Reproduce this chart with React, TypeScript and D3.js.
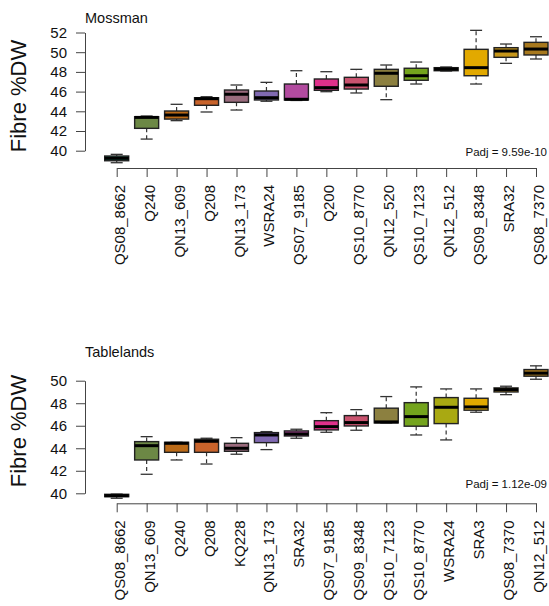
import * as d3 from "d3"
import { useEffect, useRef } from "react"

// Box colours, same order of positions in both panels
const boxColors = [
  "#1f7a5c", "#6c8845", "#bb6a17", "#c8632b", "#9a6b7d", "#8069b2", "#b24b9f", "#e0308b",
  "#c9536f", "#8c8040", "#74a41d", "#a9a912", "#e2a900", "#c6961a", "#a8791e",
]

// Mossman
const mossmanCats = [
  "QS08_8662", "Q240", "QN13_609", "Q208", "QN13_173", "WSRA24", "QS07_9185", "Q200",
  "QS10_8770", "QN12_520", "QS10_7123", "QN12_512", "QS09_8348", "SRA32", "QS08_7370",
]
const mossmanLow = [38.78, 41.18, 43.05, 43.93, 44.13, 45.02, 45.1, 45.99, 45.86, 45.18, 46.77, 48.09, 46.77, 48.87, 49.31]
const mossmanQ1 = [38.98, 42.27, 43.21, 44.61, 44.91, 45.15, 45.15, 46.13, 46.26, 46.54, 47.15, 48.12, 47.61, 49.48, 49.72]
const mossmanMed = [39.23, 43.38, 43.62, 45.28, 45.73, 45.38, 45.22, 46.4, 46.67, 47.86, 47.61, 48.29, 48.43, 50.12, 50.32]
const mossmanQ3 = [39.46, 43.45, 44.03, 45.38, 46.16, 46.06, 46.77, 47.28, 47.45, 48.26, 48.37, 48.43, 50.29, 50.46, 51.0]
const mossmanHigh = [39.63, 43.52, 44.71, 45.48, 46.67, 46.94, 48.12, 48.02, 48.26, 48.7, 49.0, 48.5, 52.22, 50.83, 51.57]
const mossmanTicks = [40, 42, 44, 46, 48, 50, 52]

// Tablelands
const tableCats = [
  "QS08_8662", "QN13_609", "Q240", "Q208", "KQ228", "QN13_173", "SRA32", "QS07_9185",
  "QS09_8348", "QS10_7123", "QS10_8770", "WSRA24", "SRA3", "QS08_7370", "QN12_512",
]
const tableLow = [39.56, 41.69, 42.96, 42.6, 43.47, 43.88, 44.89, 45.42, 45.6, 46.25, 45.18, 44.74, 47.2, 48.76, 50.13]
const tableQ1 = [39.7, 42.96, 43.64, 43.64, 43.73, 44.5, 45.09, 45.63, 45.98, 46.25, 45.96, 46.19, 47.38, 49.0, 50.4]
const tableMed = [39.79, 44.23, 44.44, 44.62, 44.0, 45.18, 45.27, 45.92, 46.28, 46.34, 46.81, 47.64, 47.67, 49.21, 50.67]
const tableQ3 = [39.91, 44.59, 44.53, 44.8, 44.44, 45.39, 45.54, 46.45, 46.9, 47.56, 48.05, 48.5, 48.44, 49.36, 50.99]
const tableHigh = [39.93, 45.03, 44.53, 44.89, 44.94, 45.48, 45.69, 47.16, 47.43, 48.59, 49.45, 49.27, 49.27, 49.51, 51.32]
const tableTicks = [40, 42, 44, 46, 48, 50]

const FONT = "'Liberation Sans', Arial, sans-serif"

interface PanelCfg {
  title: string
  padj: string
  cats: string[]
  low: number[]
  q1: number[]
  med: number[]
  q3: number[]
  high: number[]
  ticks: number[]
  yPix: [number, number] // pixel for first and last tick
  axisY: number
  titleY: number
  padjY: number
  ylabY: number
}

const drawPanel = (root: d3.Selection<SVGGElement, unknown, null, undefined>, p: PanelCfg) => {
  const g = root.append("g")

  const x = d3.scalePoint<string>().domain(p.cats).range([116.7, 536])
  const y = d3
    .scaleLinear()
    .domain([p.ticks[0], p.ticks[p.ticks.length - 1]])
    .range(p.yPix)

  const boxW = 24
  const capW = 12

  const rows = p.cats.map((c, i) => ({
    cat: c,
    low: p.low[i],
    q1: p.q1[i],
    med: p.med[i],
    q3: p.q3[i],
    high: p.high[i],
    color: boxColors[i],
  }))

  const box = g
    .selectAll(".box")
    .data(rows)
    .enter()
    .append("g")
    .attr("class", "box")
    .attr("transform", d => `translate(${x(d.cat)},0)`)

  // Whiskers (dashed)
  box
    .append("line")
    .attr("y1", d => y(d.q3))
    .attr("y2", d => y(d.high))
    .attr("stroke", "#333")
    .attr("stroke-width", 1.2)
    .attr("stroke-dasharray", "4,3")
  box
    .append("line")
    .attr("y1", d => y(d.q1))
    .attr("y2", d => y(d.low))
    .attr("stroke", "#333")
    .attr("stroke-width", 1.2)
    .attr("stroke-dasharray", "4,3")

  // Caps
  box
    .append("line")
    .attr("x1", -capW / 2)
    .attr("x2", capW / 2)
    .attr("y1", d => y(d.high))
    .attr("y2", d => y(d.high))
    .attr("stroke", "#333")
    .attr("stroke-width", 1.3)
  box
    .append("line")
    .attr("x1", -capW / 2)
    .attr("x2", capW / 2)
    .attr("y1", d => y(d.low))
    .attr("y2", d => y(d.low))
    .attr("stroke", "#333")
    .attr("stroke-width", 1.3)

  // Box
  box
    .append("rect")
    .attr("x", -boxW / 2)
    .attr("width", boxW)
    .attr("y", d => y(d.q3))
    .attr("height", d => Math.max(0.5, y(d.q1) - y(d.q3)))
    .attr("fill", d => d.color)
    .attr("stroke", "#222")
    .attr("stroke-width", 1.4)

  // Median
  box
    .append("line")
    .attr("x1", -boxW / 2)
    .attr("x2", boxW / 2)
    .attr("y1", d => y(d.med))
    .attr("y2", d => y(d.med))
    .attr("stroke", "#000")
    .attr("stroke-width", 3)

  // Y axis
  const yAxis = g
    .append("g")
    .attr("transform", "translate(85,0)")
    .call(d3.axisLeft(y).tickValues(p.ticks).tickSize(9).tickSizeOuter(0).tickPadding(9))
  yAxis.select(".domain").attr("stroke", "#444")
  yAxis.selectAll(".tick line").attr("stroke", "#444")
  yAxis
    .selectAll(".tick text")
    .attr("fill", "#111")
    .style("font-family", FONT)
    .style("font-size", "15px")

  // X axis
  const xAxis = g
    .append("g")
    .attr("transform", `translate(0,${p.axisY})`)
    .call(d3.axisBottom(x).tickSize(9).tickSizeOuter(0))
  xAxis.select(".domain").attr("stroke", "#444")
  xAxis.selectAll(".tick line").attr("stroke", "#444")
  xAxis
    .selectAll(".tick text")
    .attr("transform", "rotate(-90)")
    .attr("x", -17)
    .attr("y", 7.5)
    .attr("dy", 0)
    .attr("fill", "#111")
    .style("text-anchor", "end")
    .style("font-family", FONT)
    .style("font-size", "15px")

  // Y label
  g.append("text")
    .attr("transform", `translate(26,${p.ylabY}) rotate(-90)`)
    .attr("text-anchor", "middle")
    .attr("fill", "#111")
    .style("font-family", FONT)
    .style("font-size", "22px")
    .text("Fibre %DW")

  // Title
  g.append("text")
    .attr("x", 85)
    .attr("y", p.titleY)
    .attr("fill", "#111")
    .style("font-family", FONT)
    .style("font-size", "14.5px")
    .text(p.title)

  // Padj
  g.append("text")
    .attr("x", 547)
    .attr("y", p.padjY)
    .attr("text-anchor", "end")
    .attr("fill", "#111")
    .style("font-family", FONT)
    .style("font-size", "11.5px")
    .text(p.padj)
}

const App = () => {
  const svgRef = useRef<SVGSVGElement | null>(null)

  useEffect(() => {
    if (!svgRef.current) return
    d3.select(svgRef.current).selectAll("*").remove()
    const root = d3.select(svgRef.current).append("g")

    drawPanel(root, {
      title: "Mossman",
      padj: "Padj = 9.59e-10",
      cats: mossmanCats,
      low: mossmanLow,
      q1: mossmanQ1,
      med: mossmanMed,
      q3: mossmanQ3,
      high: mossmanHigh,
      ticks: mossmanTicks,
      yPix: [150.7, 32.5],
      axisY: 168,
      titleY: 22.5,
      padjY: 155.7,
      ylabY: 96,
    })

    drawPanel(root, {
      title: "Tablelands",
      padj: "Padj = 1.12e-09",
      cats: tableCats,
      low: tableLow,
      q1: tableQ1,
      med: tableMed,
      q3: tableQ3,
      high: tableHigh,
      ticks: tableTicks,
      yPix: [493.3, 380.7],
      axisY: 503.3,
      titleY: 356.5,
      padjY: 488.3,
      ylabY: 431,
    })
  }, [])

  return (
    <svg
      ref={svgRef}
      width={549}
      height={606}
      style={{ position: "absolute", left: 0, top: 0, background: "#fff" }}
    />
  )
}

export default App
